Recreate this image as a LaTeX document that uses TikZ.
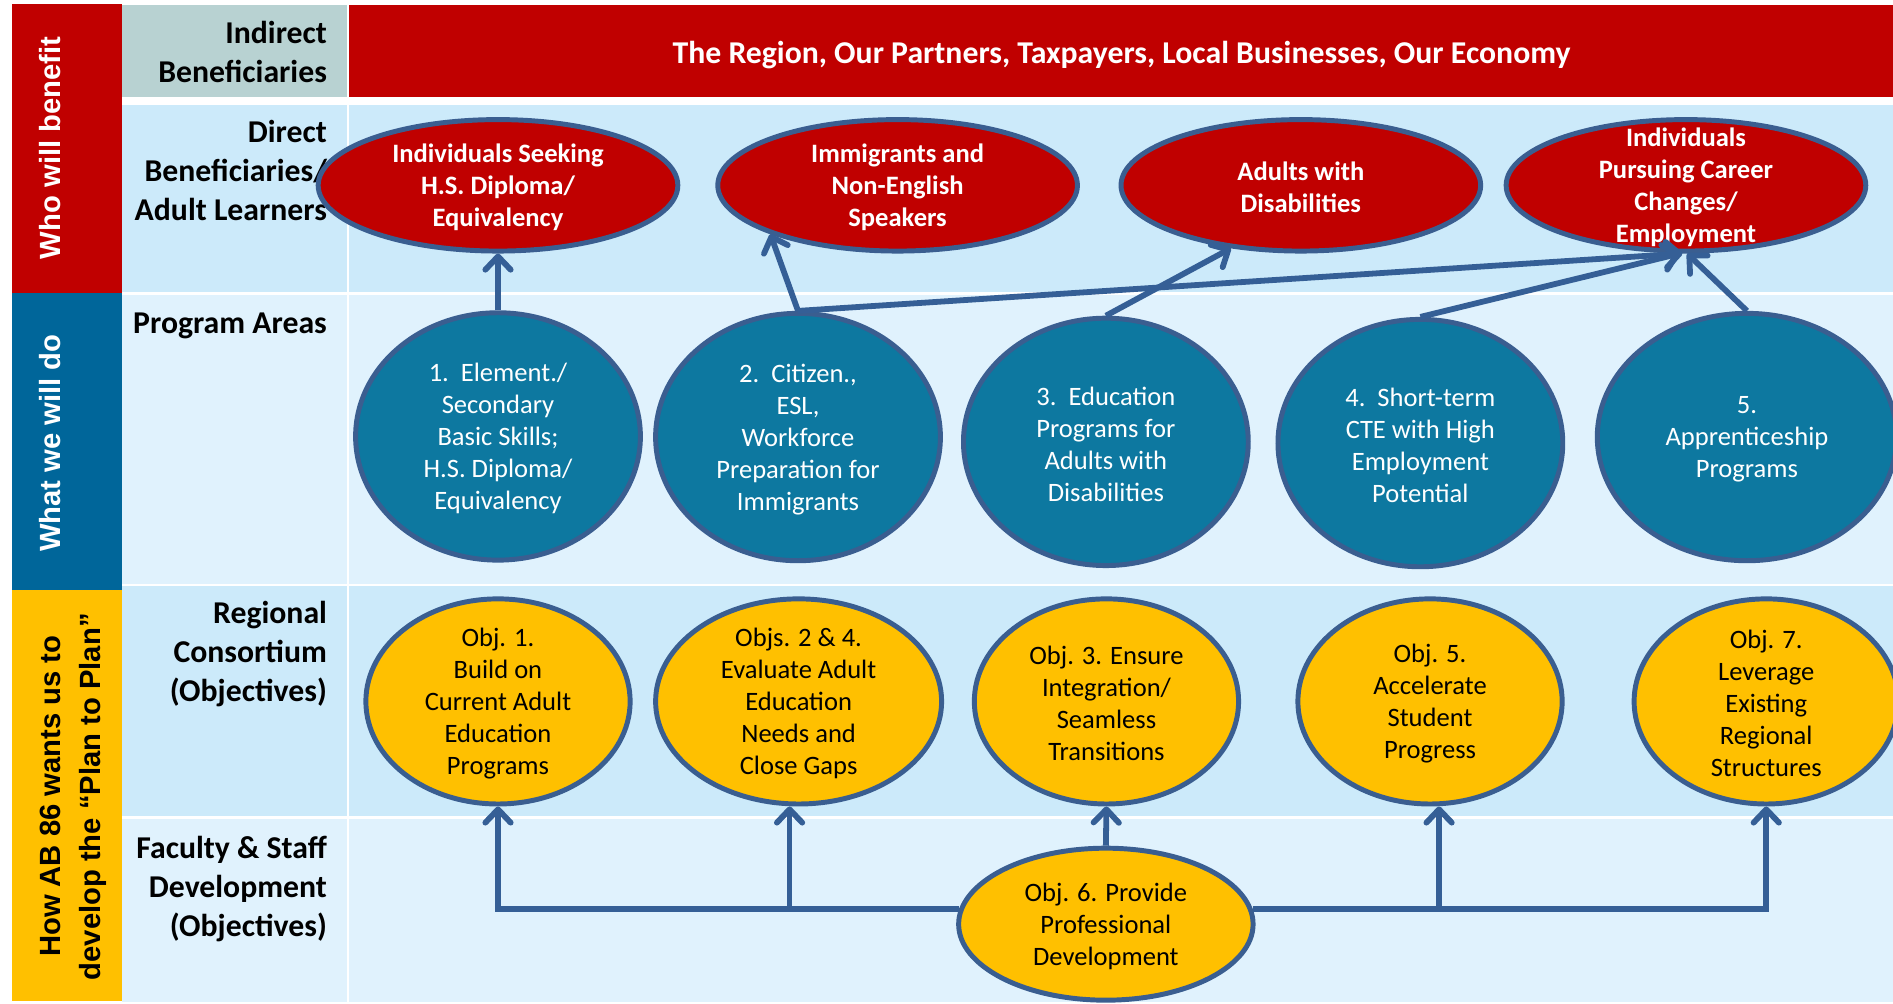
\documentclass[tikz,border=0pt]{standalone}
\usepackage{fontspec}
\setmainfont{Carlito}
\newfontfamily\bandfamily{Liberation Sans}
\usetikzlibrary{shapes.geometric,arrows.meta}
\definecolor{dred}{HTML}{C00000}
\definecolor{bandblue}{HTML}{00669A}
\definecolor{gold}{HTML}{FFC000}
\definecolor{graycell}{HTML}{B8D2D2}
\definecolor{rowA}{HTML}{CCEAFA}
\definecolor{rowB}{HTML}{E0F2FD}
\definecolor{ellblue}{HTML}{0D78A0}
\definecolor{edge}{HTML}{3A5E90}
\definecolor{connc}{HTML}{355F96}
\newcommand\lblfont{\fontsize{26.3}{32.3}\selectfont\bfseries}
\newcommand\elfont{\fontsize{22}{26.5}\selectfont}
\newcommand\bandfont{\bandfamily\fontsize{24.2}{34}\selectfont\bfseries}
\tikzset{
  lbl/.style={anchor=east, align=right, inner sep=0pt, font=\lblfont, text=black},
  ell/.style={ellipse, draw=edge, line width=4.1pt, inner sep=0pt},
  redell/.style={ell, fill=dred, minimum width=297.9pt, minimum height=108.9pt},
  blueell/.style={ell, fill=ellblue, minimum width=235.9pt, minimum height=204.9pt},
  goldell/.style={ell, fill=gold, minimum width=218.9pt, minimum height=169.9pt},
  etxt/.style={align=center, inner sep=0pt, font=\elfont, yshift=-2pt},
  redtxt/.style={etxt, text=white, font=\elfont\bfseries},
  bluetxt/.style={etxt, text=white},
  goldtxt/.style={etxt, text=black},
  conn/.style={draw=connc, line width=4.8pt, -{Straight Barb[length=11pt,width=21pt,round]}},
  bandtxt/.style={rotate=90, anchor=base, inner sep=0pt, font=\bandfont}
}
\begin{document}
\begin{tikzpicture}[x=1pt,y=-1pt]
\useasboundingbox (0,0) rectangle (1568,831);
\fill[white] (0,0) rectangle (1568,831);
\clip (0,0) rectangle (1568,831);
% left band
\fill[dred] (10,3.5) rectangle (101,242.5);
\fill[bandblue] (10,242.5) rectangle (101,489);
\fill[gold] (10,489) rectangle (101,829);
% rows
\fill[graycell] (101,4) rectangle (287.5,80.5);
\fill[dred] (289,4) rectangle (1568,80.5);
\fill[rowA] (101,87) rectangle (287.5,242);
\fill[rowA] (289,87) rectangle (1568,242);
\fill[rowB] (101,244.5) rectangle (287.5,483.5);
\fill[rowB] (289,244.5) rectangle (1568,483.5);
\fill[rowA] (101,485.5) rectangle (287.5,676);
\fill[rowA] (289,485.5) rectangle (1568,676);
\fill[rowB] (101,678) rectangle (287.5,830);
\fill[rowB] (289,678) rectangle (1568,830);
% band texts
\node[bandtxt, text=white] (who) at (50.5,122.5) {Who will benefit};
\node[bandtxt, text=white] (what) at (50.5,367) {What we will do};
\node[bandtxt, text=black] (how1) at (50,659.5) {How AB 86 wants us to};
\node[bandtxt, text=black] (how2) at (83,660) {develop the “Plan to Plan”};
% row labels
\node[lbl] (lindirect) at (271,43) {Indirect\\Beneficiaries};
\node[lbl] (ldirect) at (271,141) {Direct\\Beneficiaries/\\Adult Learners};
\node[lbl] (lprog) at (271,270) {Program Areas};
\node[lbl] (lreg) at (271,542) {Regional\\Consortium\\(Objectives)};
\node[lbl] (lfac) at (271,736) {Faculty \& Staff\\Development\\(Objectives)};
% header
\node[font=\lblfont, text=white, inner sep=0pt] (region) at (929,45.5) {The Region, Our Partners, Taxpayers, Local Businesses, Our Economy};
% red ellipses
\node[redell] (r1) at (412.5,153.5) {};
\node[redell] (r2) at (743.5,153.5) {};
\node[redell] (r3) at (1077.5,153.5) {};
\node[redell] (r4) at (1396.5,153.5) {};
\node[redtxt] (r1t) at (r1.center) {Individuals Seeking\\H.S. Diploma/\\Equivalency};
\node[redtxt] (r2t) at (r2.center) {Immigrants and\\Non-English\\Speakers};
\node[redtxt] (r3t) at (r3.center) {Adults with\\Disabilities};
\node[redtxt] (r4t) at (r4.center) {Individuals\\Pursuing Career\\Changes/\\Employment};
% blue ellipses
\node[blueell] (b1) at (412.5,361.5) {};
\node[blueell] (b2) at (661,362) {};
\node[blueell] (b3) at (916,366) {};
\node[blueell] (b4) at (1176.5,367) {};
\node[blueell, minimum width=247.9pt] (b5) at (1447,362) {};
\node[bluetxt] (b1t) at (b1.center) {1.~~Element./\\Secondary\\Basic Skills;\\H.S. Diploma/\\Equivalency};
\node[bluetxt] (b2t) at (b2.center) {2.~~Citizen.,\\ESL,\\Workforce\\Preparation for\\Immigrants};
\node[bluetxt] (b3t) at (b3.center) {3.~~Education\\Programs for\\Adults with\\Disabilities};
\node[bluetxt] (b4t) at (b4.center) {4.~~Short-term\\CTE with High\\Employment\\Potential};
\node[bluetxt] (b5t) at (b5.center) {5.\\Apprenticeship\\Programs};
% gold ellipses
\node[goldell] (g1) at (412.5,581) {};
\node[goldell, minimum width=236.9pt] (g2) at (661.5,581) {};
\node[goldell] (g3) at (916.5,581) {};
\node[goldell] (g4) at (1184.5,581) {};
\node[goldell] (g5) at (1463,581) {};
\node[goldtxt] (g1t) at (g1.center) {Obj. 1.\\Build on\\Current Adult\\Education\\Programs};
\node[goldtxt] (g2t) at (g2.center) {Objs. 2 \& 4.\\Evaluate Adult\\Education\\Needs and\\Close Gaps};
\node[goldtxt] (g3t) at (g3.center) {Obj. 3. Ensure\\Integration/\\Seamless\\Transitions};
\node[goldtxt] (g4t) at (g4.center) {Obj. 5.\\Accelerate\\Student\\Progress};
\node[goldtxt] (g5t) at (g5.center) {Obj. 7.\\Leverage\\Existing\\Regional\\Structures};
% bottom ellipse
\node[goldell, minimum width=243.9pt, minimum height=125.9pt] (o6) at (916,765.5) {};
\node[goldtxt] (o6t) at (o6.center) {Obj. 6. Provide\\Professional\\Development};
% connectors upward to beneficiaries
\draw[conn] (b1.north) -- (r1.south);
\draw[conn] (b2.north) -- (r2.201);
\draw[conn] (b2.north) -- (r4.267);
\draw[conn] (b3.north) -- (r3.222);
\draw[conn] (b4.north) -- (r4.265);
\draw[conn] (b5.north) -- (r4.271);
% connectors from Obj 6
\coordinate (jl) at (654,752.7);
\coordinate (jr) at (1192,752.7);
\draw[conn] (o6.174) -| (g1.south);
\draw[conn] (jl) -- (jl |- g2.south);
\draw[conn] (o6.north) -- (g3.south);
\draw[conn] (o6.6) -| (g5.south);
\draw[conn] (jr) -- (jr |- g4.south);
\end{tikzpicture}
\end{document}
